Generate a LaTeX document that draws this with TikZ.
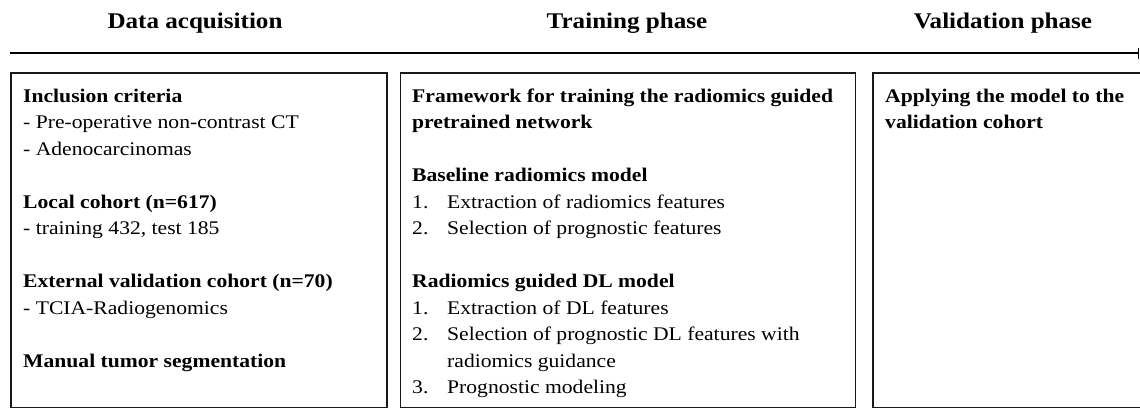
\documentclass[tikz,border=0pt]{standalone}
\usepackage{fontspec}
\setmainfont{Liberation Serif}[FakeStretch=1.12]
\usetikzlibrary{arrows.meta}
\begin{document}
\begin{tikzpicture}[x=1pt,y=-1pt,
  phasebox/.style={draw=black!90,line width=1.6pt,anchor=north west,inner sep=0pt,minimum height=334.5pt},
  header/.style={anchor=base,inner sep=0pt,font=\fontsize{22.4}{26}\selectfont\bfseries},
  boxtext/.style={anchor=north west,inner sep=0pt,align=left,font=\fontsize{19.3}{26.5}\selectfont},
  timeline/.style={line width=1.3pt,-{Bar[width=11pt,line width=1.3pt]}}]
\useasboundingbox (0,0) rectangle (1140,407);
\begin{scope}
\clip (0,0) rectangle (1140,407);
% headers
\node[header] (h1) at (195,28) {Data acquisition};
\node[header] (h2) at (627,28) {Training phase};
\node[header] (h3) at (1003,28) {Validation phase};
% timeline
\coordinate (tlstart) at (10,53);
\coordinate (tlend) at (1139.3,53);
\draw[timeline] (tlstart) -- (tlend);
% boxes
\node[phasebox,minimum width=376pt] (b1) at (10,72) {};
\node[phasebox,minimum width=455pt] (b2) at (399.5,72) {};
\node[phasebox,minimum width=290pt] (b3) at (872,72) {};
% texts
\node[boxtext] (t1) at (23,83.5) {\strut\textbf{Inclusion criteria}\\
- Pre-operative non-contrast CT\\
- Adenocarcinomas\\[26.5pt]
\textbf{Local cohort (n=617)}\\
- training 432, test 185\\[26.5pt]
\textbf{External validation cohort (n=70)}\\
- TCIA-Radiogenomics\\[26.5pt]
\textbf{Manual tumor segmentation}};
\node[boxtext] (t2) at (412,83.5) {\strut\textbf{Framework for training the radiomics guided}\\
\textbf{pretrained network}\\[26.5pt]
\textbf{Baseline radiomics model}\\
\makebox[35pt][l]{1.}Extraction of radiomics features\\
\makebox[35pt][l]{2.}Selection of prognostic features\\[26.5pt]
\textbf{Radiomics guided DL model}\\
\makebox[35pt][l]{1.}Extraction of DL features\\
\makebox[35pt][l]{2.}Selection of prognostic DL features with\\
\hspace*{35pt}radiomics guidance\\
\makebox[35pt][l]{3.}Prognostic modeling};
\node[boxtext] (t3) at (885,83.5) {\strut\textbf{Applying the model to the}\\
\textbf{validation cohort}};
\end{scope}
\end{tikzpicture}
\end{document}
